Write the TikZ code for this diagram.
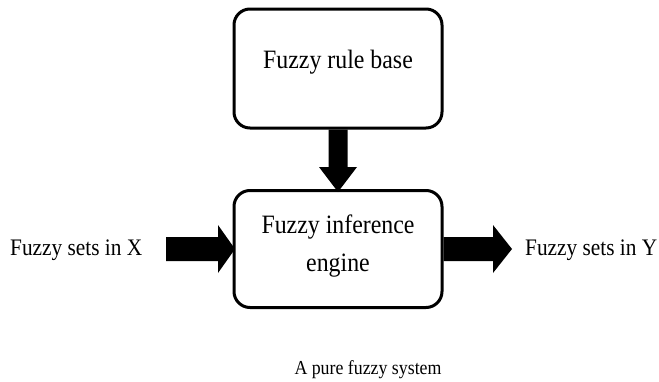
\documentclass[tikz,border=0pt]{standalone}
\usepackage{fontspec}
\setmainfont[FakeStretch=0.9]{Liberation Serif}
\usetikzlibrary{calc}
\begin{document}
\begin{tikzpicture}[x=1pt,y=-1pt,
  block/.style={draw=black, line width=3pt, rounded corners=16pt,
    minimum width=208pt, inner sep=0pt, align=center,
    font=\fontsize{26.5}{38}\selectfont},
  sidetext/.style={inner sep=0pt, anchor=base west,
    font=\fontsize{23.7}{28}\selectfont},
  fatarrow/.style={fill=black}
]
\useasboundingbox (0,0) rectangle (659,381);

% the two blocks
\node[block, minimum height=119pt, text height=18pt, text depth=19pt]
  (rule) at (338,68.5) {Fuzzy rule base};
\node[block, minimum height=117pt, text height=62pt, text depth=18pt]
  (inf) at (338,249) {Fuzzy inference\\engine};

% input / output labels
\node[sidetext] (inX) at (10,255) {Fuzzy sets in X};
\node[sidetext] (outY) at (525,255) {Fuzzy sets in Y};
\coordinate (inA) at (166,249);
\coordinate (outA) at (512,249);

% caption
\node[inner sep=0pt, anchor=base, font=\fontsize{19.8}{24}\selectfont]
  (cap) at (368,374) {A pure fuzzy system};

% rule base -> inference engine
\fill[fatarrow] ($(rule.south)+(-9.5,0)$) -- ($(inf.north)+(-9.5,-22)$)
  -- ($(inf.north)+(-19,-22)$) -- ($(inf.north)+(0,3)$)
  -- ($(inf.north)+(19,-22)$) -- ($(inf.north)+(9.5,-22)$)
  -- ($(rule.south)+(9.5,0)$) -- cycle;

% input -> inference engine
\fill[fatarrow] ($(inA)+(0,-12)$) -- ($(inf.west)+(-14.5,-12)$)
  -- ($(inf.west)+(-14.5,-24)$) -- ($(inf.west)+(2.5,0)$)
  -- ($(inf.west)+(-14.5,24)$) -- ($(inf.west)+(-14.5,12)$)
  -- ($(inA)+(0,12)$) -- cycle;

% inference engine -> output
\fill[fatarrow] ($(inf.east)+(0,-12)$) -- ($(outA)+(-19,-12)$)
  -- ($(outA)+(-19,-24)$) -- (outA)
  -- ($(outA)+(-19,24)$) -- ($(outA)+(-19,12)$)
  -- ($(inf.east)+(0,12)$) -- cycle;
\end{tikzpicture}
\end{document}
